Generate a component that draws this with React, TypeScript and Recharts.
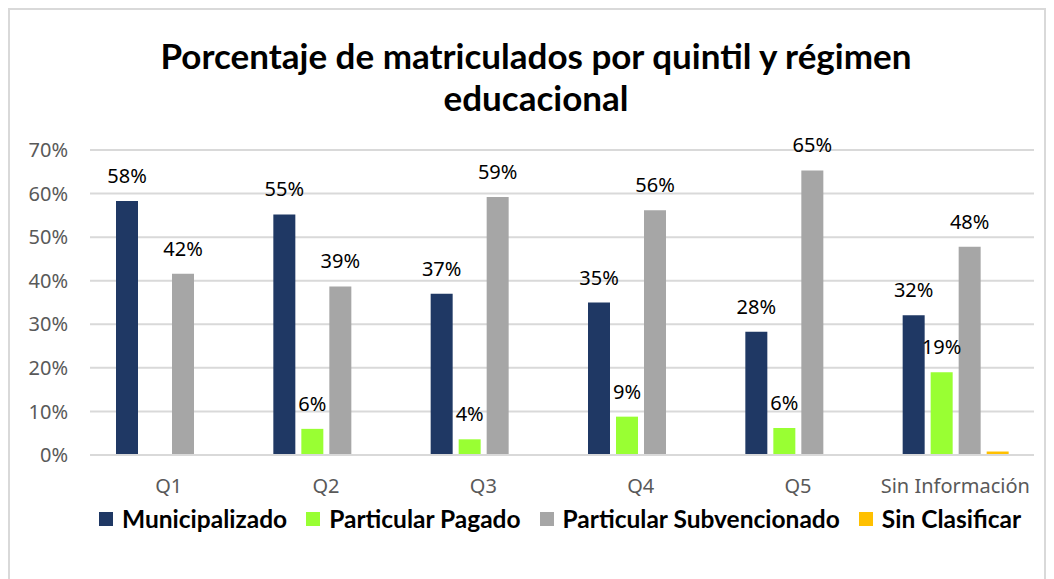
import React from 'react';
import { BarChart, Bar, XAxis, YAxis, CartesianGrid, LabelList } from 'recharts';

const categories = ['Q1', 'Q2', 'Q3', 'Q4', 'Q5', 'Sin Información'];
const municipalizado = [58.3, 55.2, 37.0, 35.0, 28.3, 32.1];
const particularPagado = [0, 6.0, 3.6, 8.8, 6.2, 19.0];
const particularSubvencionado = [41.6, 38.7, 59.2, 56.2, 65.3, 47.8];
const sinClasificar = [0, 0, 0, 0, 0, 0.8];
const yTicks = [0, 10, 20, 30, 40, 50, 60, 70];

const SERIES = [
  { key: 'mun', name: 'Municipalizado', color: '#1f3864', label: true },
  { key: 'pp', name: 'Particular Pagado', color: '#99ff33', label: true },
  { key: 'ps', name: 'Particular Subvencionado', color: '#a6a6a6', label: true },
  { key: 'sc', name: 'Sin Clasificar', color: '#ffc000', label: false },
];

const data = categories.map((name, i) => ({
  name,
  mun: municipalizado[i],
  pp: particularPagado[i],
  ps: particularSubvencionado[i],
  sc: sinClasificar[i],
}));

const pct = (v: any) => (v > 0 ? `${Math.round(v)}%` : '');

const tickStyle = { fill: '#595959', fontSize: 20, fontFamily: '"Noto Sans", sans-serif' };

const App: React.FC = () => {
  return (
    <div
      style={{
        position: 'relative',
        width: 1034,
        height: 575,
        border: '2px solid #d9d9d9',
        background: '#fff',
        fontFamily: '"Noto Sans", sans-serif',
      }}
    >
      <div
        style={{
          position: 'absolute',
          top: 24,
          left: 0,
          width: 1034,
          paddingLeft: 18,
          boxSizing: 'border-box',
          textAlign: 'center',
          fontFamily: 'Lato, sans-serif',
          fontWeight: 'bold',
          fontSize: 35,
          lineHeight: '42px',
          color: '#000',
        }}
      >
        Porcentaje de matriculados por quintil y régimen
        <br />
        educacional
      </div>

      <BarChart
        width={1034}
        height={560}
        data={data}
        margin={{ top: 140, right: 10, left: 0, bottom: 75 }}
        barSize={22}
        barGap={6}
      >
        <CartesianGrid vertical={false} stroke="#d9d9d9" strokeWidth={2} />
        <XAxis
          dataKey="name"
          height={40}
          axisLine={{ stroke: '#d9d9d9', strokeWidth: 2 }}
          tickLine={false}
          tickSize={0}
          tickMargin={24}
          tick={tickStyle}
        />
        <YAxis
          width={80}
          domain={[0, 70]}
          ticks={yTicks}
          axisLine={false}
          tickLine={false}
          tickSize={0}
          tickMargin={22}
          tickFormatter={(v) => `${v}%`}
          tick={tickStyle}
        />
        {SERIES.map((s) => (
          <Bar key={s.key} dataKey={s.key} name={s.name} fill={s.color} isAnimationActive={false}>
            {s.label && (
              <LabelList
                dataKey={s.key}
                position="top"
                offset={18}
                formatter={pct}
                style={{ fill: '#000', fontSize: 20, fontFamily: '"Noto Sans", sans-serif' }}
              />
            )}
          </Bar>
        ))}
      </BarChart>

      <div
        style={{
          position: 'absolute',
          top: 494,
          left: 89,
          display: 'flex',
          alignItems: 'center',
          gap: 19,
          fontFamily: 'Lato, sans-serif',
          fontWeight: 'bold',
          fontSize: 24.5,
          color: '#000',
          whiteSpace: 'nowrap',
        }}
      >
        {SERIES.map((s) => (
          <div key={s.key} style={{ display: 'flex', alignItems: 'center', gap: 9 }}>
            <span style={{ display: 'inline-block', width: 14, height: 14, background: s.color }} />
            <span>{s.name}</span>
          </div>
        ))}
      </div>
    </div>
  );
};

export default App;
